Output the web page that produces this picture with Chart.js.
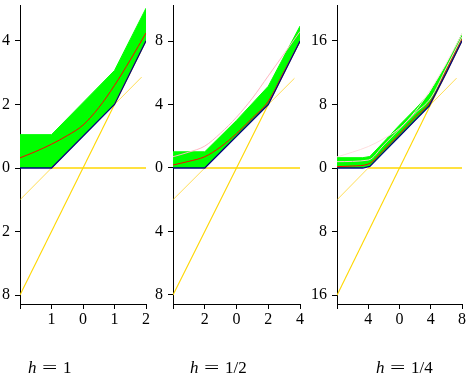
<!DOCTYPE html>
<html><head><meta charset="utf-8">
<script src="https://cdn.jsdelivr.net/npm/chart.js@4.4.1/dist/chart.umd.min.js"></script>
<style>
html,body{margin:0;padding:0;background:#fff;}
#wrap{position:relative;width:466px;height:390px;overflow:hidden;background:#fff;}
canvas{position:absolute;left:0;top:0;}
.lab{position:absolute;top:359px;font-family:'Liberation Serif',serif;font-size:17px;line-height:17px;white-space:nowrap;color:#000;}
.lab i{font-style:italic;}
.lab .eq{display:inline-block;transform:scaleX(1.6);margin:0 9px 0 8px;}
</style></head><body>
<div id="wrap">
<canvas id="c0" width="466" height="390"></canvas>
<canvas id="c1" width="466" height="390"></canvas>
<canvas id="c2" width="466" height="390"></canvas>
<div class="lab" style="left:28px"><i>h</i><span class="eq">=</span>1</div>
<div class="lab" style="left:190px"><i>h</i><span class="eq">=</span>1/2</div>
<div class="lab" style="left:376px"><i>h</i><span class="eq">=</span>1/4</div>
</div>
<script>
// ---------- Panel 1 : h = 1 ----------
const p1_xTicks = [-2, -1, 0, 1, 2];
const p1_xLabels = ['', '1', '0', '1', '2'];
const p1_yTicks = [-4, -2, 0, 2, 4];
const p1_yLabels = ['8', '2', '0', '2', '4'];
const p1_bandX = [-2, -1, 1, 2];
const p1_blueY = [0, 0, 2, 4];
const p1_bandTopY = [1.05, 1.05, 3.07, 5.03];
const p1_redX = [-2, -1.5, -1, -0.5, 0, 0.5, 1, 1.5, 2];
const p1_redY = [0.32, 0.52, 0.75, 1.02, 1.35, 1.9, 2.6, 3.4, 4.25];
const p1_zeroX = [-1, 2];
const p1_zeroY = [0, 0];
const p1_thinX = [-2, 1.86];
const p1_thinY = [-1, 2.86];
const p1_steepX = [-2, 2];
const p1_steepY = [-4, 4];

// ---------- Panel 2 : h = 1/2 ----------
const p2_xTicks = [-4, -2, 0, 2, 4];
const p2_xLabels = ['', '2', '0', '2', '4'];
const p2_yTicks = [-8, -4, 0, 4, 8];
const p2_yLabels = ['8', '4', '0', '4', '8'];
const p2_bandX = [-4, -2, 0, 2, 4];
const p2_blueY = [0, 0, 2, 4, 8];
const p2_bandTopY = [1.02, 1.02, 3.0, 5.15, 8.94];
const p2_redX = [-4, -3, -2, -1, 0, 1, 2, 3, 4];
const p2_redY = [0.19, 0.42, 0.71, 1.33, 2.17, 3.15, 4.2, 6.1, 7.95];
const p2_pinkX = [-4, -3, -2, -1, 0, 1, 2, 3, 4];
const p2_pinkY = [0.71, 1.0, 1.38, 2.2, 3.2, 4.4, 5.8, 7.2, 8.6];
const p2_zeroX = [-2, 4];
const p2_zeroY = [0, 0];
const p2_thinX = [-4, 3.65];
const p2_thinY = [-2, 5.65];
const p2_steepX = [-4, 4];
const p2_steepY = [-8, 8];

// ---------- Panel 3 : h = 1/4 ----------
const p3_xTicks = [-8, -4, 0, 4, 8];
const p3_xLabels = ['', '4', '0', '4', '8'];
const p3_yTicks = [-16, -8, 0, 8, 16];
const p3_yLabels = ['16', '8', '0', '8', '16'];
const p3_bandX = [-8, -4.7, -3.8, -2, 0, 2, 3.8, 6, 8];
const p3_blueY = [0, 0, 0.2, 2, 4, 6, 7.8, 12, 16];
const p3_bandTopY = [1.3, 1.3, 1.45, 3.3, 5.4, 7.4, 9.3, 13.0, 16.9];
const p3_redX = [-8, -6, -4, -2, 0, 2, 4, 6, 8];
const p3_redY = [0.17, 0.25, 0.5, 2.3, 4.3, 6.4, 8.4, 12.3, 16.2];
const p3_pinkX = [-8, -4, -2, 0, 2, 4, 6, 8];
const p3_pinkY = [0.8, 1.0, 2.9, 4.9, 6.9, 8.8, 12.6, 16.5];
const p3_faintX = [-8, -6, -4, -2, 0, 2, 4, 6, 8];
const p3_faintY = [1.4, 2.0, 2.7, 3.7, 5.0, 7.1, 9.9, 13.2, 16.9];
const p3_zeroX = [-4, 8];
const p3_zeroY = [0, 0];
const p3_thinX = [-8, 7.3];
const p3_thinY = [-4, 11.3];
const p3_steepX = [-8, 8];
const p3_steepY = [-16, 16];

const pts = (xs, ys) => xs.map((x, i) => ({x: x, y: ys[i]}));
const FONT = {family: "'Liberation Serif', serif", size: 16};

function panel(id, o) {
  const ds = [];
  ds.push({data: pts(o.bandX, o.blueY), borderColor: '#000080', borderWidth: 1.3, order: 1, fill: false});
  ds.push({data: pts(o.bandX, o.bandTopY), borderColor: '#00ff00', borderWidth: 1, backgroundColor: '#00ff00', fill: {target: 0}, order: 9});
  ds.push({data: pts(o.redX, o.redY), borderColor: '#ff0000', borderWidth: 1, cubicInterpolationMode: 'monotone', order: 3, fill: false});
  if (o.pinkX) ds.push({data: pts(o.pinkX, o.pinkY), borderColor: o.pinkColor, borderWidth: 1, cubicInterpolationMode: 'monotone', order: 5, fill: false});
  if (o.faintX) ds.push({data: pts(o.faintX, o.faintY), borderColor: '#ffdede', borderWidth: 1, cubicInterpolationMode: 'monotone', order: 6, fill: false});
  ds.push({data: pts(o.zeroX, o.zeroY), borderColor: '#ffd700', borderWidth: 1.5, order: 2, fill: false});
  ds.push({data: pts(o.thinX, o.thinY), borderColor: 'rgba(255,205,0,0.75)', borderWidth: 0.9, order: 2, fill: false});
  ds.push({data: pts(o.steepX, o.steepY), borderColor: '#ffd700', borderWidth: 1.1, order: 2, fill: false});
  ds.forEach(d => { d.pointRadius = 0; d.tension = d.tension || 0; });
  new Chart(document.getElementById(id), {
    type: 'line',
    data: {datasets: ds},
    options: {
      responsive: false, animation: false, events: [],
      layout: {padding: {left: o.left - o.yw, right: 466 - o.right, top: 5, bottom: 390 - 304 - 40}},
      plugins: {legend: {display: false}, tooltip: {enabled: false}},
      scales: {
        x: {
          type: 'linear', min: o.xMin, max: o.xMax,
          afterBuildTicks: s => { s.ticks = o.xTicks.map(v => ({value: v})); },
          afterFit: s => { s.height = 40; s.paddingLeft = 0; s.paddingRight = 0; },
          ticks: {autoSkip: false, maxRotation: 0, minRotation: 0, padding: 1, font: FONT, color: '#000',
                  callback: (v, i) => o.xLabels[i]},
          grid: {drawOnChartArea: false, drawTicks: true, tickLength: 5, color: '#000', lineWidth: 1},
          border: {color: '#000', width: 1}
        },
        y: {
          type: 'linear', min: o.yMin, max: o.yMax,
          afterBuildTicks: s => { s.ticks = o.yTicks.map(v => ({value: v})); },
          afterFit: s => { s.width = o.yw; s.paddingTop = 0; s.paddingBottom = 0; },
          ticks: {autoSkip: false, padding: 5, font: FONT, color: '#000',
                  callback: (v, i) => o.yLabels[i]},
          grid: {drawOnChartArea: false, drawTicks: true, tickLength: 5, color: '#000', lineWidth: 1},
          border: {color: '#000', width: 1}
        }
      }
    }
  });
}

panel('c0', {left: 20, right: 146, yw: 20, xMin: -2, xMax: 2, yMin: -4.28, yMax: 5.13,
  xTicks: p1_xTicks, xLabels: p1_xLabels, yTicks: p1_yTicks, yLabels: p1_yLabels,
  bandX: p1_bandX, blueY: p1_blueY, bandTopY: p1_bandTopY, redX: p1_redX, redY: p1_redY,
  zeroX: p1_zeroX, zeroY: p1_zeroY, thinX: p1_thinX, thinY: p1_thinY, steepX: p1_steepX, steepY: p1_steepY});
panel('c1', {left: 173, right: 300, yw: 30, xMin: -4, xMax: 4, yMin: -8.57, yMax: 10.27,
  xTicks: p2_xTicks, xLabels: p2_xLabels, yTicks: p2_yTicks, yLabels: p2_yLabels,
  bandX: p2_bandX, blueY: p2_blueY, bandTopY: p2_bandTopY, redX: p2_redX, redY: p2_redY,
  pinkX: p2_pinkX, pinkY: p2_pinkY, pinkColor: '#ffb6c1',
  zeroX: p2_zeroX, zeroY: p2_zeroY, thinX: p2_thinX, thinY: p2_thinY, steepX: p2_steepX, steepY: p2_steepY});
panel('c2', {left: 337, right: 462, yw: 30, xMin: -8, xMax: 8, yMin: -17.1, yMax: 20.5,
  xTicks: p3_xTicks, xLabels: p3_xLabels, yTicks: p3_yTicks, yLabels: p3_yLabels,
  bandX: p3_bandX, blueY: p3_blueY, bandTopY: p3_bandTopY, redX: p3_redX, redY: p3_redY,
  pinkX: p3_pinkX, pinkY: p3_pinkY, pinkColor: '#ffc8d0', faintX: p3_faintX, faintY: p3_faintY,
  zeroX: p3_zeroX, zeroY: p3_zeroY, thinX: p3_thinX, thinY: p3_thinY, steepX: p3_steepX, steepY: p3_steepY});
</script>
</body></html>
